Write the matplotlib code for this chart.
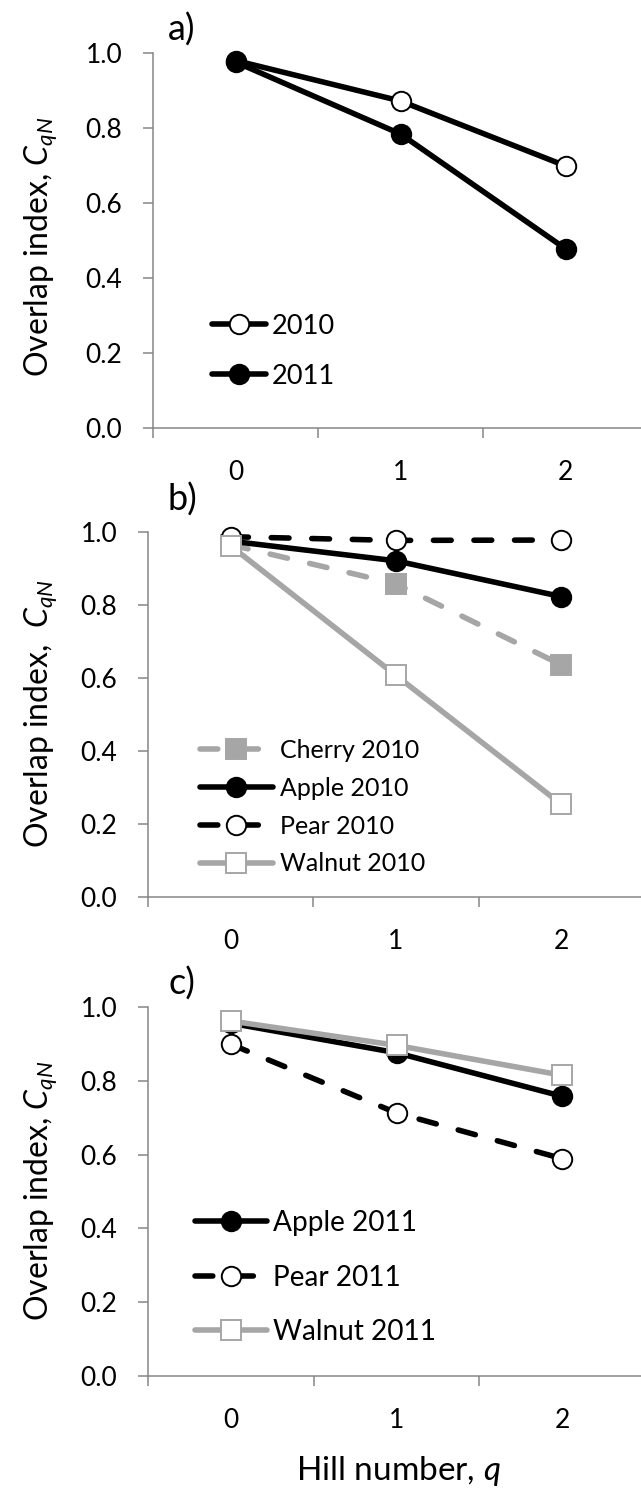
import matplotlib
matplotlib.use("Agg")
import matplotlib.pyplot as plt

plt.rcParams['font.family'] = ['Lato', 'DejaVu Sans']
plt.rcParams['mathtext.fontset'] = 'custom'
plt.rcParams['mathtext.rm'] = 'Lato'
plt.rcParams['mathtext.it'] = 'Lato:italic'

# x categories (Hill number q)
hill = [0, 1, 2]
hill_labels = ["0", "1", "2"]
y_ticks = [0.0, 0.2, 0.4, 0.6, 0.8, 1.0]

# a) years
a_2010 = [0.980, 0.872, 0.699]
a_2011 = [0.976, 0.784, 0.478]

# b) hosts 2010
b_cherry = [0.965, 0.858, 0.636]
b_apple = [0.975, 0.921, 0.823]
b_pear = [0.987, 0.977, 0.978]
b_walnut = [0.962, 0.607, 0.254]

# c) hosts 2011
c_apple = [0.956, 0.876, 0.758]
c_pear = [0.899, 0.713, 0.589]
c_walnut = [0.962, 0.896, 0.815]

W, H = 641, 1495
GREY = '#A6A6A6'
AXC = '#868686'
FS = 19
LW = 4
MS = 14
DASH = (0, (3.2, 4.1))

fig = plt.figure(figsize=(W / 100, H / 100), dpi=100)


def px_axes(left, top, right, bottom):
    return fig.add_axes([left / W, 1 - bottom / H, (right - left) / W, (bottom - top) / H])


def style(ax):
    ax.set_xlim(-0.5, 2.5)
    ax.set_ylim(0, 1)
    for s in ['top', 'right']:
        ax.spines[s].set_visible(False)
    for s in ['left', 'bottom']:
        ax.spines[s].set_color(AXC)
        ax.spines[s].set_linewidth(1.1)
    ax.set_yticks(y_ticks)
    ax.set_yticklabels(["%.1f" % v for v in y_ticks])
    ax.tick_params(axis='y', length=7.2, width=1.1, color=AXC, pad=15, labelsize=FS)
    ax.set_xticks(hill)
    ax.set_xticklabels(hill_labels)
    ax.set_xticks([-0.5, 0.5, 1.5, 2.5], minor=True)
    ax.tick_params(axis='x', which='major', length=0, pad=23, labelsize=FS)
    ax.tick_params(axis='x', which='minor', length=7.2, width=1.1, color=AXC)


def line(ax, y, label, color='black', ls='-', marker='o', mfc=None, mec=None):
    ax.plot(hill, y, color=color, lw=LW, ls=ls, dash_capstyle='round', solid_capstyle='round',
            marker=marker, ms=MS, mfc=mfc if mfc else color, mec=mec if mec else color,
            mew=1.4, label=label, clip_on=False)


def legend(ax, x, y, fs, hl, tp, sp):
    ax.legend(loc='upper left', bbox_to_anchor=(x / W, 1 - y / H), bbox_transform=fig.transFigure,
              frameon=False, borderpad=0, borderaxespad=0, handlelength=hl, handletextpad=tp,
              labelspacing=sp, fontsize=fs)


def ylabel(yc, text):
    fig.text(41 / W, 1 - yc / H, text, rotation=90, ha='center', va='center', fontsize=23)


# panel a
ax = px_axes(153, 53, 648, 428)
style(ax)
line(ax, a_2010, "2010", mfc='white', mec='black')
line(ax, a_2011, "2011")
legend(ax, 212, 314, 19.6, 2.0, 0.18, 0.91)
ylabel(247, r"Overlap index, $\it{C}_{\it{qN}}$")
fig.text(182 / W, 1 - 30 / H, "a)", ha='center', va='center', fontsize=26)

# panel b
ax = px_axes(148, 532, 644, 897)
style(ax)
line(ax, b_cherry, "Cherry 2010", color=GREY, ls=DASH, marker='s')
line(ax, b_apple, "Apple 2010")
line(ax, b_pear, "Pear 2010", ls=DASH, mfc='white', mec='black')
line(ax, b_walnut, "Walnut 2010", color=GREY, marker='s', mfc='white', mec=GREY)
legend(ax, 200, 739, 18, 2.9, 0.28, 0.59)
ylabel(714, r"Overlap index,  $\it{C}_{\it{qN}}$")
fig.text(182 / W, 1 - 500 / H, "b)", ha='center', va='center', fontsize=26)

# panel c
ax = px_axes(148, 1007, 645, 1376)
style(ax)
line(ax, c_apple, "Apple 2011")
line(ax, c_pear, "Pear 2011", ls=DASH, mfc='white', mec='black')
line(ax, c_walnut, "Walnut 2011", color=GREY, marker='s', mfc='white', mec=GREY)
legend(ax, 195, 1210, 20.2, 2.57, 0.21, 1.02)
ylabel(1191, r"Overlap index, $\it{C}_{\it{qN}}$")
fig.text(182 / W, 1 - 984 / H, "c)", ha='center', va='center', fontsize=26)

fig.text(398 / W, 1 - 1480 / H, r"Hill number, $\it{q}$", ha='center', va='baseline', fontsize=24)

fig.savefig("out.png", dpi=100)
